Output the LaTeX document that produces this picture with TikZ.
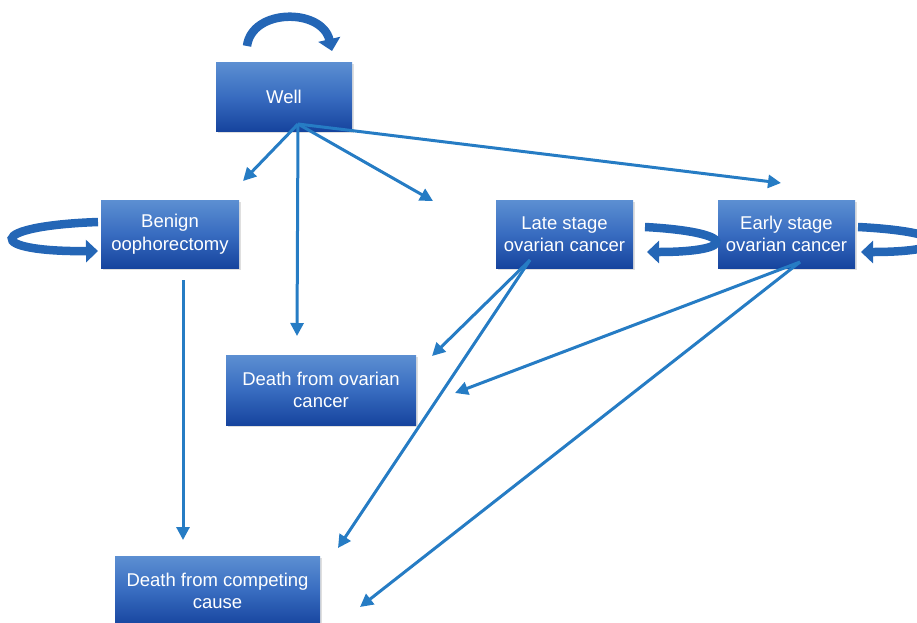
\documentclass[tikz,border=0pt]{standalone}
\usepackage{fontspec}
\setmainfont{Liberation Sans}
\usetikzlibrary{arrows.meta,shadows}
\definecolor{boxtop}{RGB}{92,143,210}
\definecolor{boxmid}{RGB}{56,108,192}
\definecolor{boxbot}{RGB}{22,68,158}
\definecolor{linkblue}{RGB}{38,124,196}
\definecolor{loopblue}{RGB}{36,102,182}
\tikzset{
stage/.style={
	  text=white, align=center, inner sep=0pt,
	    top color=boxtop, bottom color=boxbot, middle color=boxmid,
	    drop shadow={opacity=0.25, shadow xshift=1.5pt, shadow yshift=-2pt},
	    font=\fontsize{18.5}{22.5}\selectfont},
trans/.style={draw=linkblue, line width=3pt, -{Triangle[length=13pt,width=13pt]}},
loopband/.style={draw=loopblue, line width=8.5pt, -{Triangle[length=12pt,width=22pt]}}
}

\begin{document}
\begin{tikzpicture}[x=1pt, y=-1pt]
	\useasboundingbox (0,0) rectangle (917,622);
	\node[stage, minimum width=136pt, minimum height=69pt] (well) at (284,96.5) {Well};
	\node[stage, minimum width=138pt, minimum height=68pt] (benign) at (170,234) {Benign\\oophorectomy};
	\node[stage, minimum width=137pt, minimum height=68pt] (late) at (564.5,234) {Late stage\\ovarian cancer};
	\node[stage, minimum width=137pt, minimum height=68pt] (early) at (786.5,234) {Early stage\\ovarian cancer};
	\node[stage, minimum width=190pt, minimum height=70pt] (deathov) at (321,390) {Death from ovarian\\cancer};
	\node[stage, minimum width=205pt, minimum height=70pt] (deathcc) at (217.5,591) {Death from competing\\cause};
	% self loops
	\draw[loopband] (247,46) .. controls (252,8) and (322,8) .. (332,51);
	\draw[loopband] (98,222) .. controls (-15,226) and (-15,252) .. (98,251);
	\draw[loopband] (645,227) .. controls (738,232) and (738,252) .. (647,252);
	\draw[loopband] (858,227) .. controls (957,232) and (957,252) .. (861,252);
	% transitions
	\coordinate (wellout) at (298,124);
	\coordinate (benignout) at (183,280);
	\coordinate (lateout) at (530,260);
	\coordinate (earlyout) at (800,262);
	\coordinate (tobenign) at (243,181);
	\coordinate (todeathov) at (297,336);
	\coordinate (tolate) at (433,201);
	\coordinate (toearly) at (781,183);
	\coordinate (todeathcc) at (183,540);
	\coordinate (latedeathov) at (432,356);
	\coordinate (latedeathcc) at (338,548);
	\coordinate (earlydeathov) at (455,393);
	\coordinate (earlydeathcc) at (360,607);
	\draw[trans] (wellout) -- (tobenign);
	\draw[trans] (wellout) -- (todeathov);
	\draw[trans] (wellout) -- (tolate);
	\draw[trans] (wellout) -- (toearly);
	\draw[trans] (benignout) -- (todeathcc);
	\draw[trans] (lateout) -- (latedeathov);
	\draw[trans] (lateout) -- (latedeathcc);
	\draw[trans] (earlyout) -- (earlydeathov);
	\draw[trans] (earlyout) -- (earlydeathcc);
\end{tikzpicture}
\end{document}
